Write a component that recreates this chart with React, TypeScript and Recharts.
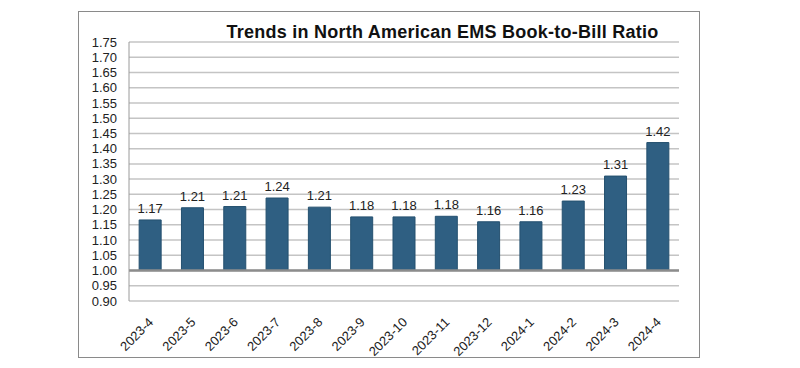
import React from 'react';
import { BarChart, Bar, XAxis, YAxis, CartesianGrid, ReferenceLine, LabelList } from 'recharts';

// Monthly book-to-bill ratios
const months = [
    '2023-4', '2023-5', '2023-6', '2023-7', '2023-8', '2023-9', '2023-10',
    '2023-11', '2023-12', '2024-1', '2024-2', '2024-3', '2024-4',
];
const ratios = [1.166, 1.206, 1.21, 1.238, 1.208, 1.176, 1.176, 1.178, 1.16, 1.16, 1.228, 1.31, 1.42];
const yTicks = [0.9, 0.95, 1.0, 1.05, 1.1, 1.15, 1.2, 1.25, 1.3, 1.35, 1.4, 1.45, 1.5, 1.55, 1.6, 1.65, 1.7, 1.75];
const parity = 1.0;

const FONT = '"Liberation Sans", Arial, sans-serif';

// bars float up from the 1.00 line
const data = months.map((m, i) => ({ month: m, range: [parity, ratios[i]], value: ratios[i] }));

interface TickProps {
    x?: number;
    y?: number;
    payload?: { value: string };
}

const MonthTick = ({ x = 0, y = 0, payload }: TickProps) => {
    const tx = x + 4;
    const ty = y + 14;
    return (
        <text
            x={tx}
            y={ty}
            transform={`rotate(-45, ${tx}, ${ty})`}
            textAnchor="end"
            fontSize={13}
            fontFamily={FONT}
            fill="#222"
        >
            {payload?.value}
        </text>
    );
};

const App: React.FC = () => {
    return (
        <div style={{ position: 'relative', width: 800, height: 368, background: '#fff' }}>
            <style>{`body { margin: 0; }`}</style>
            <div
                style={{
                    position: 'absolute',
                    left: 78,
                    top: 11,
                    width: 620,
                    height: 345,
                    border: '1px solid #8a8a8a',
                }}
            />
            <div
                style={{
                    position: 'absolute',
                    left: 0,
                    width: 885,
                    top: 22,
                    textAlign: 'center',
                    fontFamily: FONT,
                    fontWeight: 700,
                    fontSize: 18,
                    letterSpacing: 0.25,
                    color: '#111',
                }}
            >
                Trends in North American EMS Book-to-Bill Ratio
            </div>
            <div style={{ position: 'absolute', left: 0, top: 0 }}>
                <BarChart
                    width={800}
                    height={368}
                    data={data}
                    barCategoryGap="24%"
                    margin={{ top: 42, right: 121, bottom: 0, left: 79 }}
                >
                    <CartesianGrid vertical={false} stroke="#c4c4c4" strokeWidth={1.5} />
                    <XAxis
                        dataKey="month"
                        axisLine={false}
                        tickLine={false}
                        interval={0}
                        height={67}
                        tick={<MonthTick />}
                    />
                    <YAxis
                        type="number"
                        domain={[0.9, 1.75]}
                        ticks={yTicks}
                        interval={0}
                        width={50}
                        axisLine={{ stroke: '#9a9a9a' }}
                        tickLine={false}
                        tickSize={6}
                        tickMargin={6}
                        tickFormatter={(v: number) => v.toFixed(2)}
                        tick={{ fontSize: 13, fontFamily: FONT, fill: '#222' }}
                    />
                    <ReferenceLine y={parity} stroke="#8c8c8c" strokeWidth={2.5} />
                    <Bar dataKey="range" fill="#2f5f82" stroke="#24506f" isAnimationActive={false}>
                        <LabelList
                            dataKey="value"
                            position="top"
                            offset={7}
                            formatter={(v: number) => v.toFixed(2)}
                            style={{ fontSize: 13, fontFamily: FONT, fill: '#222' }}
                        />
                    </Bar>
                </BarChart>
            </div>
        </div>
    );
};

export default App;
